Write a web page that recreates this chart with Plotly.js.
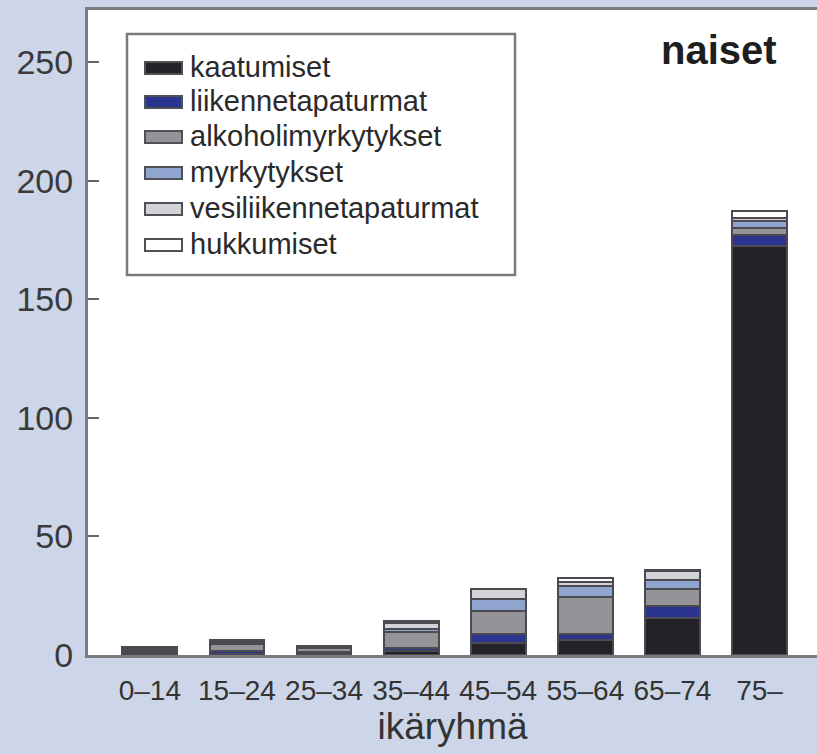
<!DOCTYPE html>
<html>
<head>
<meta charset="utf-8">
<script src="https://cdn.plot.ly/plotly-3.0.1.min.js"></script>
<style>
html,body{margin:0;padding:0;background:#cdd6e8;}
#chart{width:817px;height:754px;}
</style>
</head>
<body>
<div id="chart"></div>
<script>
// ---- data ----
const categories = ['0–14', '15–24', '25–34', '35–44', '45–54', '55–64', '65–74', '75–'];
const seriesNames = ['kaatumiset', 'liikennetapaturmat', 'alkoholimyrkytykset', 'myrkytykset', 'vesiliikennetapaturmat', 'hukkumiset'];
const kaatumiset          = [0.3, 0.3, 0.5, 1.5, 5.0, 6.3, 15.6, 172.4];
const liikennetapaturmat  = [1.0, 1.5, 0.6, 1.5, 3.8, 2.5, 5.0, 4.6];
const alkoholimyrkytykset = [0.5, 3.0, 1.8, 6.5, 9.7, 15.6, 7.2, 3.0];
const myrkytykset         = [0.4, 0.6, 0.4, 1.5, 5.0, 4.6, 3.8, 3.0];
const vesiliikennetapaturmat = [0.5, 0.6, 0.4, 2.5, 4.2, 1.7, 3.8, 1.3];
const hukkumiset          = [0.5, 0.5, 0.3, 1.0, 0.3, 1.7, 0.3, 3.0];
const seriesValues = [kaatumiset, liikennetapaturmat, alkoholimyrkytykset, myrkytykset, vesiliikennetapaturmat, hukkumiset];
const seriesColors = ['#232228', '#2b3590', '#939398', '#8fa5cf', '#d2d3d7', '#ffffff'];
const yTickValues = [0, 50, 100, 150, 200, 250];
const xTitle = 'ikäryhmä';
const panelTitle = 'naiset';

// ---- layout helpers (pixel -> paper) ----
const W = 817, H = 754;
const M = {l: 88, r: 0, t: 10, b: 99};
const PW = W - M.l - M.r, PH = H - M.t - M.b;
const px = x => (x - M.l) / PW;
const py = y => (H - M.b - y) / PH;

const regular = '"Liberation Sans", Arial, sans-serif';

const traces = seriesNames.map((name, i) => ({
  type: 'bar',
  name: name,
  x: categories,
  y: seriesValues[i],
  marker: {color: seriesColors[i], line: {color: '#4a4a50', width: 2}},
  hoverinfo: 'name+y'
}));

// manual legend (box, swatches, labels)
const legendRows = [68, 102, 137, 173, 209, 245];
const shapes = [{
  type: 'rect', xref: 'paper', yref: 'paper', layer: 'above',
  x0: px(127), x1: px(515), y0: py(34), y1: py(275),
  line: {color: '#7a7a7e', width: 2.5}, fillcolor: '#ffffff'
}];
const annotations = [];
seriesNames.forEach((name, i) => {
  const yc = legendRows[i];
  shapes.push({
    type: 'rect', xref: 'paper', yref: 'paper', layer: 'above',
    x0: px(145), x1: px(182), y0: py(yc - 6), y1: py(yc + 6),
    line: {color: '#505055', width: 2}, fillcolor: seriesColors[i]
  });
  annotations.push({
    xref: 'paper', yref: 'paper', x: px(188), y: py(yc - 1),
    xanchor: 'left', yanchor: 'middle', showarrow: false,
    text: name, font: {family: regular, size: 29, color: '#2a2a2a'}
  });
});
annotations.push({
  xref: 'paper', yref: 'paper', x: px(719), y: py(50),
  xanchor: 'center', yanchor: 'middle', showarrow: false,
  text: '<b>' + panelTitle + '</b>', font: {family: regular, size: 40, color: '#1e1e1e'}
});

const layout = {
  width: W, height: H,
  margin: M,
  paper_bgcolor: '#cdd6e8',
  plot_bgcolor: '#ffffff',
  barmode: 'stack',
  bargap: 0.37,
  showlegend: false,
  xaxis: {
    type: 'category',
    range: [-0.71, 7.66],
    showline: true, linecolor: '#7a7a80', linewidth: 3, mirror: true,
    showgrid: false, zeroline: false, ticks: '',
    tickangle: 0,
    tickfont: {family: regular, size: 28, color: '#333333'},
    ticklabelstandoff: 8,
    title: {text: xTitle, font: {family: regular, size: 37, color: '#333333'}, standoff: 2}
  },
  yaxis: {
    range: [0, 272],
    tickvals: yTickValues,
    showline: true, linecolor: '#7a7a80', linewidth: 3,
    showgrid: false, zeroline: false,
    ticks: 'inside', ticklen: 11, tickwidth: 2, tickcolor: '#666666',
    tickfont: {family: regular, size: 34, color: '#3a3a3a'},
    ticklabelstandoff: 5
  },
  shapes: shapes,
  annotations: annotations
};

Plotly.newPlot('chart', traces, layout, {displayModeBar: false, staticPlot: true});
</script>
</body>
</html>
